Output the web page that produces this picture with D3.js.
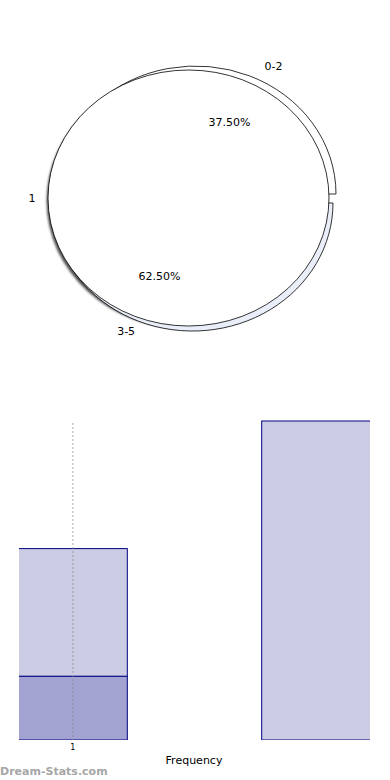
<!DOCTYPE html>
<html>
<head>
<meta charset="utf-8">
<script src="https://cdn.jsdelivr.net/npm/d3@7/dist/d3.min.js"></script>
<style>
  body { margin: 0; background: #fff; }
  svg { display: block; font-family: "DejaVu Sans", sans-serif; }
</style>
</head>
<body>
<svg width="390" height="780"></svg>
<script>
// data
var categories = ["0-2", "3-5"];
var freq = [3, 5];
var stackLow = [1, 0];   // dark part of each bar
var stackHigh = [2, 5];  // light part on top
var seriesName = "1";
var yTicks = [1];

var svg = d3.select("svg");

// ---------- pie ----------
var cx = 188.5, cy = 198, rx = 140.5, ry = 128;
var total = d3.sum(freq);

var pie = d3.pie().sort(null)
  .startAngle(-Math.PI / 4)
  .endAngle(-Math.PI / 4 + 2 * Math.PI);
var arcs = pie(freq);

var arc = d3.arc().innerRadius(0).outerRadius(1);
var explode = [[7, -4], [4, 5]];
var ringFill = ["#ffffff", "#e9eef9"];

var defs = svg.append("defs");
defs.append("filter").attr("id", "blur")
  .append("feGaussianBlur").attr("stdDeviation", 1.3);

var pieG = svg.append("g");

// shadow
pieG.append("ellipse")
  .attr("cx", cx - 1.5).attr("cy", cy + 3)
  .attr("rx", rx).attr("ry", ry)
  .attr("fill", "#555")
  .attr("filter", "url(#blur)");

// exploded slices (draw 3-5 first)
[1, 0].forEach(function(i) {
  pieG.append("path")
    .attr("d", arc(arcs[i]))
    .attr("transform", "translate(" + (cx + explode[i][0]) + "," + (cy + explode[i][1]) + ") scale(" + rx + "," + ry + ")")
    .attr("fill", ringFill[i])
    .attr("stroke", "#000")
    .attr("stroke-width", 0.8)
    .attr("vector-effect", "non-scaling-stroke");
});

// main face
pieG.append("ellipse")
  .attr("cx", cx).attr("cy", cy)
  .attr("rx", rx).attr("ry", ry)
  .attr("fill", "#fff")
  .attr("stroke", "#000")
  .attr("stroke-width", 0.8);

function onEllipse(a, k) {
  return [cx + rx * k * Math.sin(a), cy - ry * k * Math.cos(a)];
}

// category + percent labels
arcs.forEach(function(d, i) {
  var mid = (d.startAngle + d.endAngle) / 2;
  var p = onEllipse(mid, 1.16);
  if (i === 0) { p = onEllipse(mid + 0.1, 1.16); p[0] += 8; p[1] += 3; }
  pieG.append("text")
    .attr("x", p[0]).attr("y", p[1])
    .attr("text-anchor", "middle")
    .attr("font-size", 11)
    .attr("fill", "#000")
    .text(categories[i]);

  var q = onEllipse(mid, 0.65);
  pieG.append("text")
    .attr("x", q[0] + 6).attr("y", q[1] + 5)
    .attr("text-anchor", "middle")
    .attr("font-size", 11)
    .attr("fill", "#000")
    .text(d3.format(".2f")(d.data / total * 100) + "%");
});

pieG.append("text")
  .attr("x", 32).attr("y", 202)
  .attr("text-anchor", "middle")
  .attr("font-size", 11)
  .attr("fill", "#000")
  .text(seriesName);

// ---------- bars ----------
var x = d3.scaleBand().domain(categories).range([18.5, 370.5]).paddingInner(0.5526).paddingOuter(0);
var y = d3.scaleLinear().domain([0, 5]).range([740, 421]);

defs.append("clipPath").attr("id", "plotclip")
  .append("rect").attr("x", 19).attr("y", 380).attr("width", 351).attr("height", 360);

var barG = svg.append("g").attr("clip-path", "url(#plotclip)");

barG.selectAll("rect.low").data(categories).enter().append("rect")
  .attr("class", "low")
  .filter(function(d, i) { return stackLow[i] > 0; })
  .attr("x", function(d) { return x(d); })
  .attr("width", x.bandwidth())
  .attr("y", function(d) { return y(stackLow[categories.indexOf(d)]); })
  .attr("height", function(d) { return y(0) - y(stackLow[categories.indexOf(d)]); })
  .attr("fill", "#a3a3d1")
  .attr("stroke", "#000080")
  .attr("stroke-width", 1);

barG.selectAll("rect.high").data(categories).enter().append("rect")
  .attr("class", "high")
  .attr("x", function(d) { return x(d); })
  .attr("width", x.bandwidth())
  .attr("y", function(d, i) { return y(stackLow[i] + stackHigh[i]); })
  .attr("height", function(d, i) { return y(stackLow[i]) - y(stackLow[i] + stackHigh[i]); })
  .attr("fill", "#ccccE5")
  .attr("stroke", "#000080")
  .attr("stroke-width", 1);

// dotted guide line through first bar
var gx = x(categories[0]) + x.bandwidth() / 2;
svg.append("line")
  .attr("x1", gx).attr("x2", gx)
  .attr("y1", 423).attr("y2", 740)
  .attr("stroke", "#888")
  .attr("stroke-width", 1.2)
  .attr("stroke-dasharray", "2,2")
  .attr("opacity", 0.6);

svg.selectAll("text.tick").data(yTicks).enter().append("text")
  .attr("class", "tick")
  .attr("x", gx).attr("y", 750)
  .attr("text-anchor", "middle")
  .attr("font-size", 8)
  .attr("fill", "#000")
  .text(function(d) { return d; });

svg.append("text")
  .attr("x", 194).attr("y", 764)
  .attr("text-anchor", "middle")
  .attr("font-size", 11)
  .attr("fill", "#000")
  .text("Frequency");

svg.append("text")
  .attr("x", 0).attr("y", 775)
  .attr("font-size", 11)
  .attr("font-weight", "bold")
  .attr("fill", "#a6a6a6")
  .text("Dream-Stats.com");
</script>
</body>
</html>
